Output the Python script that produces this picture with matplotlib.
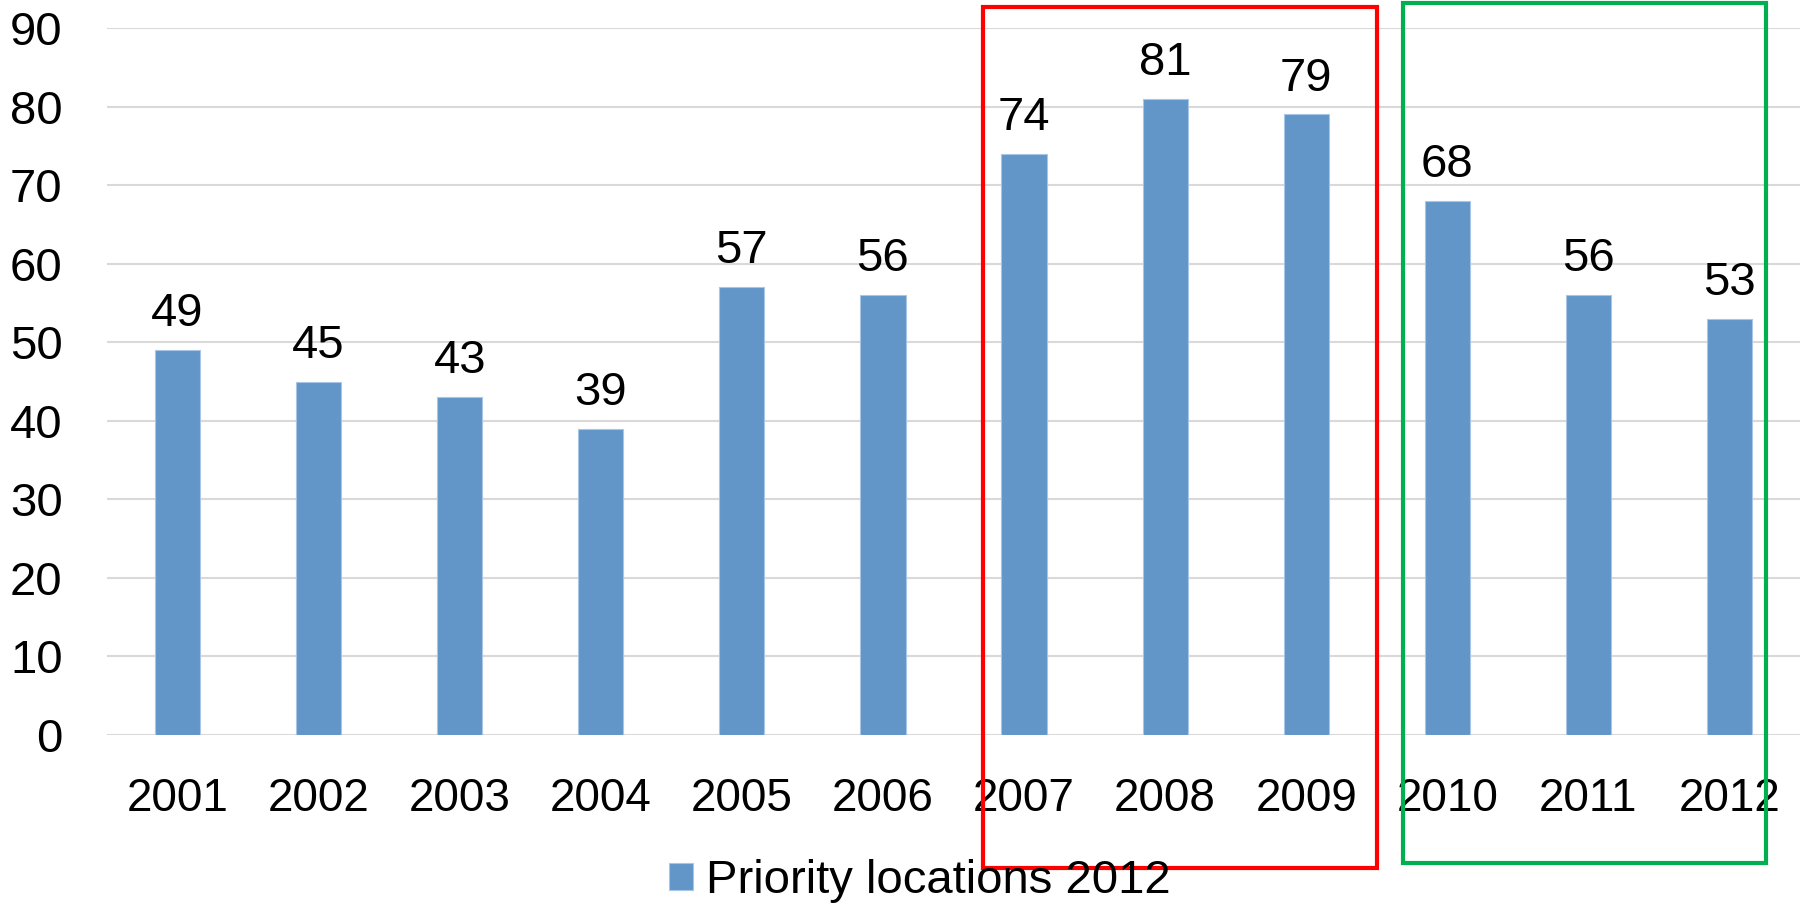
import matplotlib
matplotlib.use("Agg")
import matplotlib.pyplot as plt
import matplotlib.transforms as mtransforms
from matplotlib.patches import Rectangle

years = ["2001", "2002", "2003", "2004", "2005", "2006",
         "2007", "2008", "2009", "2010", "2011", "2012"]
locations = [49, 45, 43, 39, 57, 56, 74, 81, 79, 68, 56, 53]
series_name = "Priority locations 2012"

plt.rcParams['font.family'] = ['Liberation Sans', 'DejaVu Sans']

fig = plt.figure(figsize=(18.04, 9.10), dpi=100)
ax = fig.add_axes([0.0593, 0.1923, 0.9385, 0.7769])

x = range(len(years))
bars = ax.bar(x, locations, width=0.32, color='#6296C9', edgecolor='#A9C6E6',
              linewidth=0.8, label=series_name, zorder=3)
ax.bar_label(bars, labels=[str(v) for v in locations], padding=10, fontsize=34)

ax.set_xlim(-0.5, len(years) - 0.5)
ax.set_ylim(0, 90)
ax.set_yticks(range(0, 91, 10))
ax.set_xticks(list(x))
ax.set_xticklabels(years)
ax.tick_params(axis='both', length=0)
ax.tick_params(axis='y', pad=32, labelsize=34)
ax.tick_params(axis='x', pad=30, labelsize=33)
ax.grid(axis='y', color='#D9D9D9', linewidth=1.5, zorder=0)
for s in ax.spines.values():
    s.set_visible(False)

# highlight boxes around the 2007-2009 and 2010-2012 groups
trans = mtransforms.blended_transform_factory(ax.transData, fig.transFigure)
ax.add_patch(Rectangle((5.71, 0.046), 8.5 - 5.71, 0.992 - 0.046, transform=trans,
                       fill=False, edgecolor='#FF0000', linewidth=3,
                       clip_on=False, zorder=5))
ax.add_patch(Rectangle((8.685, 0.052), 11.26 - 8.685, 0.997 - 0.052, transform=trans,
                       fill=False, edgecolor='#00B050', linewidth=3,
                       clip_on=False, zorder=5))

fig.legend(loc='center', bbox_to_anchor=(0.510, 0.032), frameon=False, fontsize=34,
           handlelength=0.51, handleheight=0.51, handletextpad=0.28,
           borderpad=0, borderaxespad=0)

fig.savefig("out.png", dpi=100)
